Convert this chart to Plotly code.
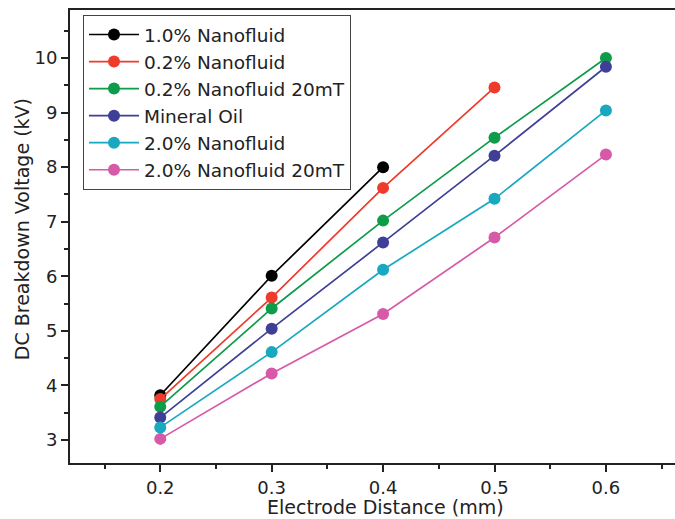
import plotly.graph_objects as go

x_all = [0.2, 0.3, 0.4, 0.5, 0.6]

names = ["1.0% Nanofluid", "0.2% Nanofluid", "0.2% Nanofluid 20mT",
         "Mineral Oil", "2.0% Nanofluid", "2.0% Nanofluid 20mT"]
v_10 = [3.82, 6.01, 8.0]
v_02 = [3.75, 5.61, 7.62, 9.46]
v_02m = [3.61, 5.41, 7.02, 8.54, 10.0]
v_oil = [3.41, 5.04, 6.62, 8.21, 9.84]
v_20 = [3.23, 4.61, 6.12, 7.42, 9.04]
v_20m = [3.02, 4.22, 5.31, 6.71, 8.23]
series = [v_10, v_02, v_02m, v_oil, v_20, v_20m]
colors = ["#000000", "#EE3B2B", "#0E9B4A", "#3F3F97", "#18A8BF", "#D65AA8"]
x_title = "Electrode Distance (mm)"
y_title = "DC Breakdown Voltage (kV)"

fig = go.Figure()
for i, (n, v, c) in enumerate(zip(names, series, colors)):
    fig.add_trace(go.Scatter(
        x=x_all[:len(v)], y=v, name=n, mode="lines+markers",
        line=dict(color=c, width=1.7),
        marker=dict(color=c, size=12, line=dict(width=0)),
    ))

font_family = "DejaVu Sans"
fig.update_layout(
    width=675, height=519,
    margin=dict(l=70, r=0, t=10, b=56),
    paper_bgcolor="white", plot_bgcolor="white",
    font=dict(family=font_family, color="#222222", size=18),
    showlegend=True,
    legend=dict(
        x=0.0215, y=0.989, xanchor="left", yanchor="top",
        bordercolor="#444444", borderwidth=1, bgcolor="white",
        font=dict(size=18.5, family=font_family, color="#222222"),
        itemwidth=50,
    ),
    annotations=[
        dict(text=x_title, xref="paper", yref="paper", x=0.522, y=-0.097,
             xanchor="center", yanchor="middle", showarrow=False,
             font=dict(size=19, family=font_family, color="#222222")),
        dict(text=y_title, xref="paper", yref="paper", x=-0.079, y=0.5166,
             xanchor="center", yanchor="middle", showarrow=False, textangle=-90,
             font=dict(size=19, family=font_family, color="#222222")),
    ],
)
fig.update_xaxes(
    range=[0.119, 0.662],
    tickvals=[0.2, 0.3, 0.4, 0.5, 0.6],
    ticktext=["0.2", "0.3", "0.4", "0.5", "0.6"],
    ticks="outside", ticklen=7, tickwidth=1.5, tickcolor="#222",
    minor=dict(tickvals=[0.15, 0.25, 0.35, 0.45, 0.55, 0.65], ticks="outside",
               ticklen=4, tickwidth=1.5, tickcolor="#222"),
    showline=True, linecolor="#222", linewidth=2, mirror=True,
    showgrid=False, zeroline=False,
    tickfont=dict(size=18),
)
fig.update_yaxes(
    range=[2.578, 10.88],
    tickvals=[3, 4, 5, 6, 7, 8, 9, 10],
    ticks="outside", ticklen=7, tickwidth=1.5, tickcolor="#222",
    minor=dict(tickvals=[3.5, 4.5, 5.5, 6.5, 7.5, 8.5, 9.5, 10.5], ticks="outside",
               ticklen=4, tickwidth=1.5, tickcolor="#222"),
    showline=True, linecolor="#222", linewidth=2, mirror=False,
    showgrid=False, zeroline=False,
    tickfont=dict(size=18),
)

fig.write_html("out.html")
